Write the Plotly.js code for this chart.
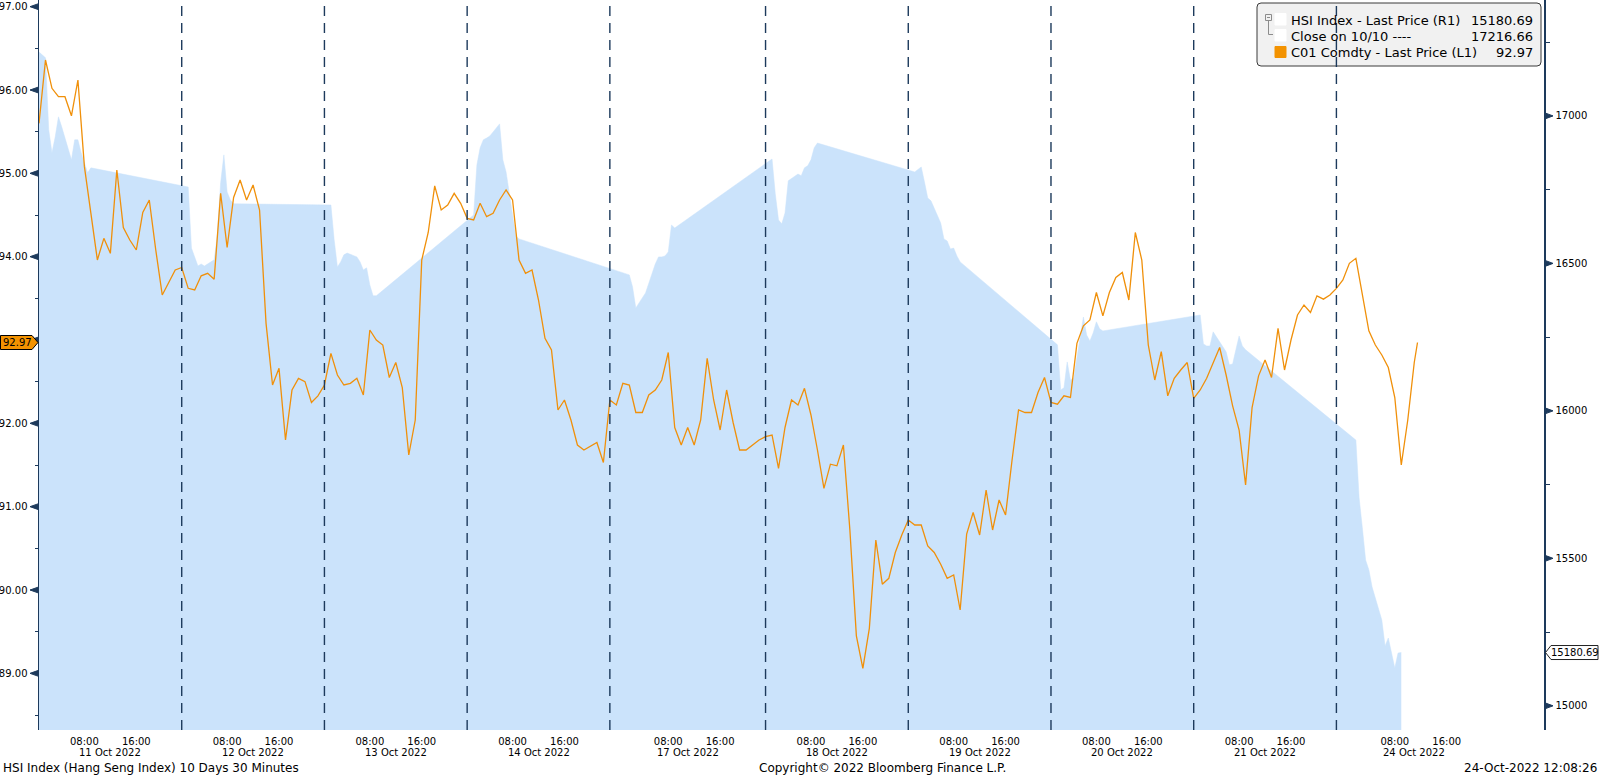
<!DOCTYPE html>
<html>
<head>
<meta charset="utf-8">
<script src="https://cdn.plot.ly/plotly-3.0.1.min.js"></script>
<style>
  html, body { margin: 0; padding: 0; background: #fff; }
  #chart { width: 1599px; height: 777px; }
</style>
</head>
<body>
<div id="chart"></div>
<script>
// trading days on the axis (London time, only trading hours are kept)
var days = ['11 Oct 2022', '12 Oct 2022', '13 Oct 2022', '14 Oct 2022', '17 Oct 2022',
            '18 Oct 2022', '19 Oct 2022', '20 Oct 2022', '21 Oct 2022', '24 Oct 2022'];
// session open hour (Mondays open Sunday 23:00) and session length
var sessionOpen = [1, 1, 1, 1, -1, 1, 1, 1, 1, -1];
var sessionHours = [22, 22, 22, 22, 24, 22, 22, 22, 22, 24];
var tickTimes = ['08:00', '16:00'];

// C01 Comdty - last price, hourly from session open
var brent11 = [95.60, 96.36, 96.02, 95.92, 95.92, 95.69, 96.12, 95.08, 94.52, 93.96, 94.22, 94.04, 95.04, 94.35, 94.20, 94.08, 94.53, 94.68, 94.08, 93.54, 93.69, 93.84];
var brent12 = [93.87, 93.62, 93.60, 93.77, 93.80, 93.73, 94.76, 94.11, 94.71, 94.92, 94.68, 94.86, 94.56, 93.20, 92.46, 92.66, 91.80, 92.40, 92.54, 92.50, 92.25, 92.33];
var brent13 = [92.46, 92.84, 92.58, 92.46, 92.48, 92.54, 92.34, 93.12, 93.00, 92.94, 92.55, 92.73, 92.43, 91.62, 92.04, 93.96, 94.29, 94.85, 94.56, 94.62, 94.76, 94.64];
var brent14 = [94.46, 94.44, 94.64, 94.48, 94.52, 94.68, 94.80, 94.68, 93.96, 93.80, 93.84, 93.48, 93.02, 92.88, 92.16, 92.28, 92.04, 91.74, 91.68, 91.73, 91.77, 91.53];
var brent17 = [92.28, 92.22, 92.48, 92.46, 92.13, 92.13, 92.34, 92.40, 92.52, 92.85, 91.95, 91.74, 91.95, 91.74, 92.04, 92.78, 92.28, 91.92, 92.40, 92.01, 91.68, 91.68, 91.74, 91.80];
var brent18 = [91.84, 91.86, 91.46, 91.95, 92.28, 92.22, 92.42, 92.10, 91.68, 91.22, 91.51, 91.49, 91.74, 90.72, 89.45, 89.06, 89.54, 90.60, 90.07, 90.14, 90.45, 90.66];
var brent19 = [90.84, 90.78, 90.78, 90.53, 90.45, 90.31, 90.14, 90.18, 89.76, 90.67, 90.93, 90.66, 91.20, 90.72, 91.08, 90.90, 91.56, 92.16, 92.13, 92.13, 92.37, 92.55];
var brent20 = [92.25, 92.23, 92.33, 92.31, 92.96, 93.17, 93.24, 93.57, 93.29, 93.57, 93.75, 93.81, 93.48, 94.29, 93.96, 92.94, 92.52, 92.86, 92.33, 92.54, 92.64, 92.73];
var brent21 = [92.30, 92.40, 92.54, 92.72, 92.91, 92.58, 92.21, 91.92, 91.26, 92.19, 92.57, 92.76, 92.55, 93.14, 92.64, 93.00, 93.30, 93.42, 93.33, 93.53, 93.49, 93.54];
var brent24 = [93.62, 93.72, 93.92, 93.98, 93.54, 93.11, 92.94, 92.82, 92.67, 92.31, 91.50, 92.04, 92.73];
var brentDays = [brent11, brent12, brent13, brent14, brent17, brent18, brent19, brent20, brent21, brent24];
var brentLast = 92.97;
var brentLastTime = '11:30';

// HSI Index - last price, 30 minute bars (London time)
var hsiTimes = ['02:00', '02:30', '03:00', '03:30', '04:00', '04:30', '06:00', '06:30', '07:00', '07:30', '08:00', '08:30', '09:00'];
var hsi11 = [17197, 16953, 16875, 16929, 16997, 16963, 16851, 16919, 16919, 16875, 16841, 16807, 16824];
var hsi12 = [16759, 16552, 16519, 16491, 16498, 16491, 16512, 16597, 16773, 16868, 16742, 16715, 16702];
var hsi13 = [16698, 16580, 16488, 16505, 16529, 16535, 16522, 16505, 16478, 16485, 16427, 16390, 16390];
var hsi14 = [16664, 16834, 16892, 16919, 16925, 16932, 16973, 16851, 16810, 16742, 16658, 16593, 16583];
var hsi17 = [16461, 16420, 16349, 16366, 16383, 16400, 16498, 16522, 16522, 16525, 16539, 16630, 16620];
var hsi18 = [16854, 16736, 16647, 16634, 16671, 16780, 16803, 16797, 16824, 16831, 16851, 16892, 16908];
var hsi19 = [16810, 16820, 16827, 16776, 16722, 16712, 16637, 16583, 16576, 16549, 16552, 16525, 16505];
var hsi20 = [16224, 16071, 16078, 16166, 16105, 16112, 16318, 16257, 16237, 16264, 16302, 16278, 16271];
var hsi21 = [16325, 16227, 16220, 16220, 16268, 16251, 16200, 16156, 16159, 16207, 16254, 16220, 16207];
var hsi24 = [15901, 15705, 15603, 15494, 15461, 15403, 15291, 15203, 15230, 15182, 15128, 15179, 15180.69];
var hsiDays = [hsi11, hsi12, hsi13, hsi14, hsi17, hsi18, hsi19, hsi20, hsi21, hsi24];
var hsiPrevClose = 17216.66;   // close on 10/10
var hsiLast = 15180.69;

// axis ticks
var brentTicks = [89, 90, 91, 92, 93, 94, 95, 96, 97];
var hsiTicks = [15000, 15500, 16000, 16500, 17000];
var brentRange = [88.32, 97.08];
var hsiRange = [14918, 17393];

var navy = '#1d3a5c';
var orange = '#f0900a';
var blue = '#cbe3fb';
var font = 'DejaVu Sans, Verdana, sans-serif';

// hours of trading time from the left edge
var dayStart = [];
var acc = 0;
for (var d = 0; d < days.length; d++) {
  dayStart.push(acc);
  acc += sessionHours[d];
}
function clockToX(d, hhmm) {
  var p = hhmm.split(':');
  return dayStart[d] + Number(p[0]) + Number(p[1]) / 60 - sessionOpen[d];
}

// build series
var brentX = [], brentY = [];
brentDays.forEach(function (vals, d) {
  vals.forEach(function (v, i) {
    brentX.push(dayStart[d] + i);
    brentY.push(v);
  });
});
brentX.push(clockToX(days.length - 1, brentLastTime));
brentY.push(brentLast);

var hsiX = [0], hsiY = [hsiPrevClose];
hsiDays.forEach(function (vals, d) {
  vals.forEach(function (v, i) {
    hsiX.push(clockToX(d, hsiTimes[i]));
    hsiY.push(v);
  });
});

var tickvals = [], ticktext = [];
days.forEach(function (name, d) {
  tickTimes.forEach(function (t) {
    tickvals.push(clockToX(d, t));
    ticktext.push(t);
  });
});

// plot area in pixels, used for the hand drawn legend, markers and footer
var L = 39, W = 1505, H = 730;
function px(x) { return (x - L) / W; }
function py(y) { return 1 - y / H; }
function brentPix(v) { return (brentRange[1] - v) / (brentRange[1] - brentRange[0]) * H; }
function hsiPix(v) { return (hsiRange[1] - v) / (hsiRange[1] - hsiRange[0]) * H; }

var shapes = [];
var annotations = [];

function poly(pts, fill, lineColor, layer) {
  var path = pts.map(function (p, i) { return (i ? 'L' : 'M') + px(p[0]) + ',' + py(p[1]); }).join(' ') + ' Z';
  return { type: 'path', xref: 'paper', yref: 'paper', path: path, fillcolor: fill,
           line: { color: lineColor || fill, width: 1 }, layer: layer || 'above' };
}

// dashed day separators
for (var d = 1; d < days.length; d++) {
  shapes.push({
    type: 'line', xref: 'x', yref: 'paper', x0: dayStart[d], x1: dayStart[d], y0: 0, y1: 1,
    line: { color: navy, width: 1.4, dash: '10px,7px' }, layer: 'above'
  });
}

// date labels under each day
days.forEach(function (name, d) {
  annotations.push({
    xref: 'x', yref: 'paper', x: dayStart[d] + sessionHours[d] / 2, y: py(752),
    text: name, showarrow: false, xanchor: 'center', yanchor: 'middle',
    font: { family: font, size: 10, color: '#000' }
  });
});

// triangle tick markers
brentTicks.forEach(function (v) {
  var y = brentPix(v);
  shapes.push(poly([[38.5, y - 3], [38.5, y + 3], [30, y]], navy));
});
hsiTicks.forEach(function (v) {
  var y = hsiPix(v);
  shapes.push(poly([[1545, y - 3], [1545, y + 3], [1553, y]], navy));
});

// last price tags on both axes
var by = brentPix(brentLast);
shapes.push(poly([[0.5, by - 7], [32, by - 7], [38, by], [32, by + 7], [0.5, by + 7]], '#f39200', '#000'));
annotations.push({
  xref: 'paper', yref: 'paper', x: px(17), y: py(by), text: brentLast.toFixed(2), showarrow: false,
  xanchor: 'center', yanchor: 'middle', font: { family: font, size: 10, color: '#000' }
});
var hy = hsiPix(hsiLast);
shapes.push(poly([[1545.5, hy], [1551, hy - 7], [1598, hy - 7], [1598, hy + 7], [1551, hy + 7]], '#ffffff', '#222'));
annotations.push({
  xref: 'paper', yref: 'paper', x: px(1575), y: py(hy), text: hsiLast.toFixed(2), showarrow: false,
  xanchor: 'center', yanchor: 'middle', font: { family: font, size: 10, color: '#000' }
});

// legend box
function roundRect(x0, y0, x1, y1, r) {
  return 'M' + px(x0 + r) + ',' + py(y0) +
    ' L' + px(x1 - r) + ',' + py(y0) + ' Q' + px(x1) + ',' + py(y0) + ' ' + px(x1) + ',' + py(y0 + r) +
    ' L' + px(x1) + ',' + py(y1 - r) + ' Q' + px(x1) + ',' + py(y1) + ' ' + px(x1 - r) + ',' + py(y1) +
    ' L' + px(x0 + r) + ',' + py(y1) + ' Q' + px(x0) + ',' + py(y1) + ' ' + px(x0) + ',' + py(y1 - r) +
    ' L' + px(x0) + ',' + py(y0 + r) + ' Q' + px(x0) + ',' + py(y0) + ' ' + px(x0 + r) + ',' + py(y0) + ' Z';
}
function rect(x0, y0, x1, y1, fill, lineColor) {
  return { type: 'rect', xref: 'paper', yref: 'paper', x0: px(x0), x1: px(x1), y0: py(y1), y1: py(y0),
           fillcolor: fill, line: { color: lineColor || fill, width: 1 }, layer: 'below' };
}
function seg(x0, y0, x1, y1, c) {
  return { type: 'line', xref: 'paper', yref: 'paper', x0: px(x0), x1: px(x1), y0: py(y0), y1: py(y1),
           line: { color: c, width: 1 }, layer: 'below' };
}
shapes.push({ type: 'path', xref: 'paper', yref: 'paper', path: roundRect(1257, 3, 1541, 66, 4),
              fillcolor: '#f1f1f1', line: { color: '#3a3a3a', width: 1 }, layer: 'below' });
shapes.push(rect(1265.5, 14.5, 1271.5, 20.5, '#f1f1f1', '#8c8c8c'));
shapes.push(seg(1267, 17.5, 1270, 17.5, '#8c8c8c'));
shapes.push(seg(1268.5, 20.5, 1268.5, 34.5, '#8c8c8c'));
shapes.push(seg(1268.5, 34.5, 1273, 34.5, '#8c8c8c'));
shapes.push(rect(1275, 13.5, 1286, 25, '#ffffff'));
shapes.push(rect(1275, 29.5, 1286, 41, '#ffffff'));
shapes.push(rect(1275, 46.5, 1286, 57.5, '#f39200'));

var legendRows = [
  ['HSI Index - Last Price (R1)', hsiLast.toFixed(2), 20.7],
  ['Close on 10/10 ----', hsiPrevClose.toFixed(2), 36],
  ['C01 Comdty - Last Price (L1)', brentLast.toFixed(2), 52.3]
];
legendRows.forEach(function (r) {
  annotations.push({ xref: 'paper', yref: 'paper', x: px(1289), y: py(r[2]), text: r[0], showarrow: false,
                     xanchor: 'left', yanchor: 'middle', font: { family: font, size: 13, color: '#000' } });
  annotations.push({ xref: 'paper', yref: 'paper', x: px(1535), y: py(r[2]), text: r[1], showarrow: false,
                     xanchor: 'right', yanchor: 'middle', font: { family: font, size: 13, color: '#000' } });
});

// footer
var footer = [
  ['HSI Index (Hang Seng Index) 10 Days 30 Minutes', 1, 'left'],
  ['Copyright\u00A9 2022 Bloomberg Finance L.P.', 882, 'center'],
  ['24-Oct-2022 12:08:26', 1599, 'right']
];
footer.forEach(function (f) {
  annotations.push({ xref: 'paper', yref: 'paper', x: px(f[1]), y: py(768), text: f[0], showarrow: false,
                     xanchor: f[2], yanchor: 'middle', font: { family: font, size: 12, color: '#000' } });
});

var data = [
  {
    type: 'scatter', mode: 'lines', name: 'HSI Index - Last Price (R1)',
    x: hsiX, y: hsiY, yaxis: 'y', fill: 'tozeroy', fillcolor: blue,
    line: { color: blue, width: 0.5 }
  },
  {
    type: 'scatter', mode: 'lines', name: 'C01 Comdty - Last Price (L1)',
    x: brentX, y: brentY, yaxis: 'y2',
    line: { color: orange, width: 1.3 }
  }
];

// the 93.00 label sits under the last price tag
var brentTickText = brentTicks.map(function (v) {
  return Math.abs(v - brentLast) < 0.3 ? '' : v.toFixed(2);
});

var layout = {
  width: 1599,
  height: 777,
  margin: { l: L, r: 1599 - L - W, t: 0, b: 777 - H },
  paper_bgcolor: '#ffffff',
  plot_bgcolor: '#ffffff',
  showlegend: false,
  hovermode: false,
  font: { family: font, size: 10, color: '#000' },
  xaxis: {
    range: [0, 232], showgrid: false, zeroline: false, showline: false,
    tickvals: tickvals, ticktext: ticktext, ticks: 'outside', ticklen: 2,
    tickcolor: 'rgba(0,0,0,0)', tickfont: { family: font, size: 10, color: '#000' }
  },
  yaxis: {
    side: 'right', range: hsiRange, showgrid: false, zeroline: false,
    showline: true, linecolor: navy, linewidth: 1.5,
    tickvals: hsiTicks, ticktext: hsiTicks.map(String), ticks: 'outside', ticklen: 8,
    tickcolor: 'rgba(0,0,0,0)', tickfont: { family: font, size: 10, color: '#000' },
    minor: { dtick: 250, tick0: 15000, ticks: 'outside', ticklen: 4, tickcolor: navy, tickwidth: 1 }
  },
  yaxis2: {
    overlaying: 'y', side: 'left', range: brentRange, showgrid: false, zeroline: false,
    showline: true, linecolor: navy, linewidth: 1.5,
    tickvals: brentTicks, ticktext: brentTickText, ticks: 'outside', ticklen: 8,
    tickcolor: 'rgba(0,0,0,0)', tickfont: { family: font, size: 10, color: '#000' },
    minor: { dtick: 0.5, tick0: 89, ticks: 'outside', ticklen: 3, tickcolor: navy, tickwidth: 1 }
  },
  shapes: shapes,
  annotations: annotations
};

Plotly.newPlot('chart', data, layout, { staticPlot: true, displayModeBar: false });
</script>
</body>
</html>
